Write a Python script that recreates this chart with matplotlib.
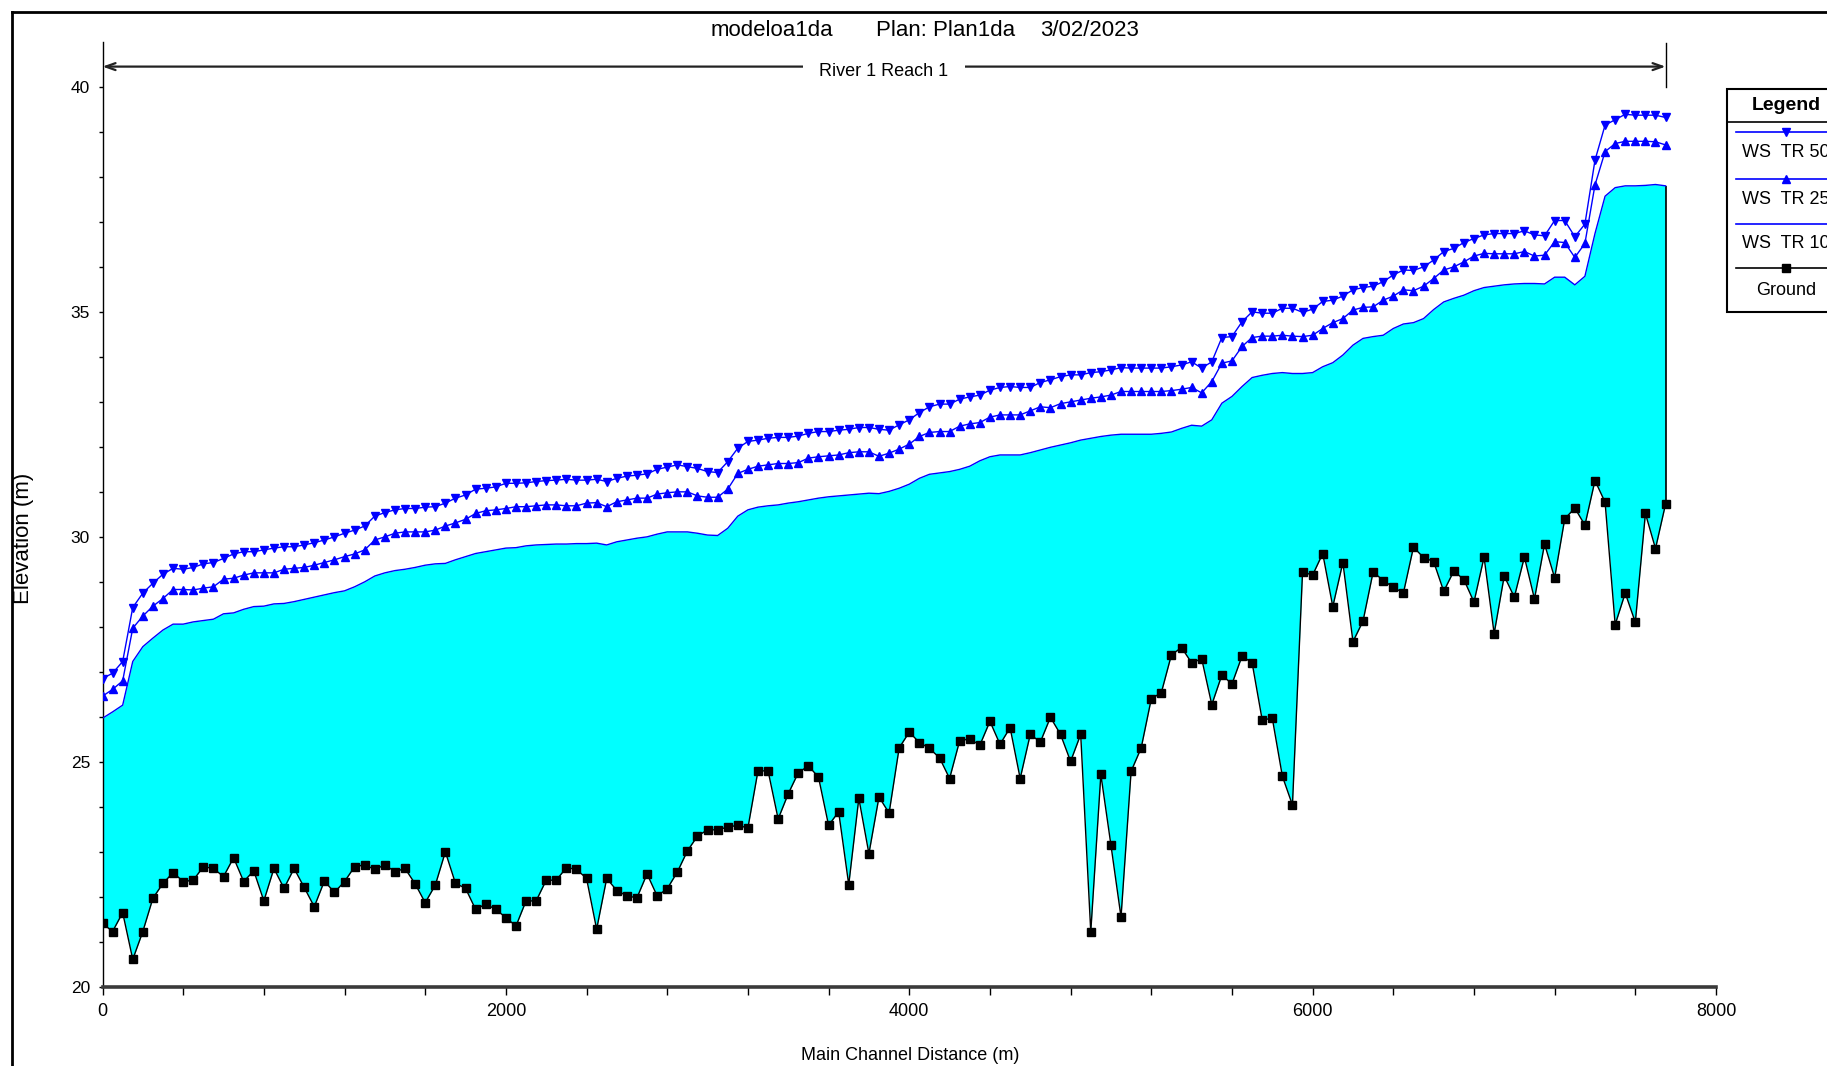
import matplotlib
matplotlib.use("Agg")
import matplotlib.pyplot as plt
from matplotlib.lines import Line2D
from matplotlib.patches import Rectangle

# figure size in pixels (saved at 100 dpi)
W, H = 1827, 1066

# main channel distance of each cross section (m)
station = [
    0, 50, 100, 150, 200, 250, 300, 350, 400, 450,
    500, 550, 600, 650, 700, 750, 800, 850, 900, 950,
    1000, 1050, 1100, 1150, 1200, 1250, 1300, 1350, 1400, 1450,
    1500, 1550, 1600, 1650, 1700, 1750, 1800, 1850, 1900, 1950,
    2000, 2050, 2100, 2150, 2200, 2250, 2300, 2350, 2400, 2450,
    2500, 2550, 2600, 2650, 2700, 2750, 2800, 2850, 2900, 2950,
    3000, 3050, 3100, 3150, 3200, 3250, 3300, 3350, 3400, 3450,
    3500, 3550, 3600, 3650, 3700, 3750, 3800, 3850, 3900, 3950,
    4000, 4050, 4100, 4150, 4200, 4250, 4300, 4350, 4400, 4450,
    4500, 4550, 4600, 4650, 4700, 4750, 4800, 4850, 4900, 4950,
    5000, 5050, 5100, 5150, 5200, 5250, 5300, 5350, 5400, 5450,
    5500, 5550, 5600, 5650, 5700, 5750, 5800, 5850, 5900, 5950,
    6000, 6050, 6100, 6150, 6200, 6250, 6300, 6350, 6400, 6450,
    6500, 6550, 6600, 6650, 6700, 6750, 6800, 6850, 6900, 6950,
    7000, 7050, 7100, 7150, 7200, 7250, 7300, 7350, 7400, 7450,
    7500, 7550, 7600, 7650, 7700, 7750,
]

# channel bed elevation (m)
ground = [
    21.42, 21.24, 21.66, 20.62, 21.24, 21.98, 22.31, 22.55, 22.35, 22.38,
    22.68, 22.64, 22.46, 22.88, 22.35, 22.59, 21.92, 22.64, 22.20, 22.64,
    22.22, 21.79, 22.36, 22.11, 22.35, 22.68, 22.72, 22.62, 22.72, 22.57,
    22.64, 22.30, 21.88, 22.27, 23.01, 22.31, 22.20, 21.73, 21.85, 21.73,
    21.55, 21.36, 21.92, 21.92, 22.38, 22.38, 22.66, 22.62, 22.42, 21.29,
    22.42, 22.15, 22.03, 21.99, 22.52, 22.03, 22.19, 22.56, 23.03, 23.36,
    23.50, 23.50, 23.56, 23.60, 23.54, 24.81, 24.81, 23.74, 24.30, 24.77,
    24.92, 24.67, 23.60, 23.90, 22.28, 24.20, 22.97, 24.23, 23.87, 25.32,
    25.67, 25.44, 25.31, 25.10, 24.64, 25.48, 25.52, 25.38, 25.91, 25.40,
    25.77, 24.64, 25.62, 25.45, 26.00, 25.62, 25.02, 25.62, 21.23, 24.73,
    23.16, 21.56, 24.80, 25.32, 26.41, 26.55, 27.39, 27.55, 27.21, 27.30,
    26.28, 26.94, 26.74, 27.36, 27.21, 25.94, 25.98, 24.69, 24.05, 29.23,
    29.16, 29.64, 28.46, 29.44, 27.68, 28.14, 29.23, 29.04, 28.89, 28.76,
    29.78, 29.55, 29.46, 28.80, 29.25, 29.06, 28.56, 29.56, 27.86, 29.14,
    28.67, 29.56, 28.63, 29.85, 29.10, 30.41, 30.65, 30.27, 31.26, 30.78,
    28.06, 28.76, 28.11, 30.53, 29.75, 30.74,
]

# water surface, 10 year return period
ws_tr10 = [
    25.98, 26.12, 26.27, 27.24, 27.57, 27.76, 27.94, 28.07, 28.07, 28.12,
    28.15, 28.18, 28.30, 28.32, 28.40, 28.46, 28.47, 28.52, 28.53, 28.57,
    28.62, 28.67, 28.72, 28.77, 28.81, 28.90, 29.01, 29.14, 29.21, 29.26,
    29.29, 29.33, 29.38, 29.41, 29.42, 29.50, 29.57, 29.64, 29.68, 29.72,
    29.76, 29.77, 29.81, 29.83, 29.84, 29.85, 29.85, 29.86, 29.86, 29.87,
    29.83, 29.90, 29.94, 29.98, 30.01, 30.07, 30.12, 30.12, 30.12, 30.09,
    30.05, 30.04, 30.20, 30.47, 30.61, 30.67, 30.70, 30.72, 30.76, 30.79,
    30.83, 30.87, 30.90, 30.92, 30.94, 30.96, 30.98, 30.97, 31.02, 31.09,
    31.18, 31.31, 31.40, 31.43, 31.46, 31.51, 31.58, 31.70, 31.79, 31.83,
    31.83, 31.83, 31.88, 31.94, 32.00, 32.05, 32.10, 32.16, 32.20, 32.24,
    32.27, 32.29, 32.29, 32.29, 32.29, 32.31, 32.34, 32.42, 32.49, 32.47,
    32.61, 32.98, 33.13, 33.35, 33.55, 33.60, 33.64, 33.66, 33.64, 33.64,
    33.66, 33.79, 33.88, 34.05, 34.27, 34.42, 34.46, 34.49, 34.64, 34.74,
    34.77, 34.86, 35.06, 35.23, 35.31, 35.38, 35.48, 35.55, 35.58, 35.61,
    35.63, 35.64, 35.64, 35.63, 35.78, 35.78, 35.61, 35.80, 36.75, 37.58,
    37.77, 37.81, 37.81, 37.82, 37.84, 37.81,
]

# water surface, 25 year return period
ws_tr25 = [
    26.47, 26.62, 26.81, 27.98, 28.25, 28.47, 28.64, 28.84, 28.84, 28.83,
    28.87, 28.90, 29.07, 29.09, 29.16, 29.21, 29.21, 29.21, 29.29, 29.31,
    29.33, 29.38, 29.44, 29.50, 29.57, 29.63, 29.72, 29.94, 30.01, 30.09,
    30.12, 30.12, 30.12, 30.16, 30.25, 30.32, 30.40, 30.53, 30.59, 30.61,
    30.64, 30.68, 30.68, 30.70, 30.72, 30.72, 30.70, 30.70, 30.76, 30.77,
    30.68, 30.79, 30.83, 30.87, 30.87, 30.96, 30.99, 31.01, 31.01, 30.92,
    30.89, 30.89, 31.07, 31.42, 31.51, 31.58, 31.61, 31.64, 31.64, 31.66,
    31.76, 31.79, 31.81, 31.83, 31.88, 31.90, 31.90, 31.80, 31.87, 31.96,
    32.07, 32.24, 32.33, 32.35, 32.35, 32.47, 32.52, 32.55, 32.67, 32.72,
    32.72, 32.72, 32.81, 32.90, 32.88, 32.97, 33.01, 33.05, 33.09, 33.12,
    33.16, 33.24, 33.24, 33.24, 33.24, 33.24, 33.26, 33.29, 33.33, 33.21,
    33.46, 33.87, 33.92, 34.24, 34.44, 34.47, 34.47, 34.49, 34.47, 34.46,
    34.49, 34.64, 34.77, 34.86, 35.05, 35.11, 35.12, 35.27, 35.36, 35.50,
    35.48, 35.58, 35.75, 35.94, 36.01, 36.12, 36.25, 36.31, 36.30, 36.30,
    36.30, 36.35, 36.25, 36.27, 36.57, 36.55, 36.22, 36.53, 37.83, 38.57,
    38.75, 38.80, 38.80, 38.80, 38.79, 38.72,
]

# water surface, 50 year return period
ws_tr50 = [
    26.86, 26.98, 27.24, 28.44, 28.76, 28.98, 29.18, 29.31, 29.29, 29.33,
    29.41, 29.44, 29.53, 29.63, 29.68, 29.68, 29.72, 29.76, 29.79, 29.79,
    29.83, 29.88, 29.94, 30.01, 30.09, 30.16, 30.25, 30.47, 30.55, 30.61,
    30.64, 30.64, 30.67, 30.68, 30.76, 30.87, 30.94, 31.07, 31.09, 31.12,
    31.20, 31.20, 31.21, 31.24, 31.26, 31.27, 31.29, 31.27, 31.27, 31.29,
    31.24, 31.31, 31.36, 31.38, 31.41, 31.51, 31.56, 31.61, 31.57, 31.53,
    31.46, 31.44, 31.68, 31.98, 32.13, 32.16, 32.20, 32.22, 32.22, 32.25,
    32.31, 32.35, 32.35, 32.38, 32.40, 32.44, 32.44, 32.40, 32.38, 32.50,
    32.61, 32.77, 32.90, 32.96, 32.96, 33.07, 33.12, 33.16, 33.27, 33.33,
    33.35, 33.33, 33.33, 33.44, 33.50, 33.57, 33.61, 33.61, 33.66, 33.68,
    33.72, 33.77, 33.76, 33.76, 33.76, 33.76, 33.79, 33.83, 33.90, 33.76,
    33.90, 34.44, 34.46, 34.79, 35.01, 34.98, 34.98, 35.09, 35.09, 35.00,
    35.07, 35.24, 35.27, 35.36, 35.50, 35.55, 35.58, 35.68, 35.83, 35.94,
    35.93, 36.01, 36.16, 36.35, 36.42, 36.55, 36.64, 36.72, 36.75, 36.75,
    36.75, 36.81, 36.72, 36.70, 37.04, 37.04, 36.68, 36.96, 38.38, 39.16,
    39.28, 39.40, 39.38, 39.38, 39.38, 39.33,
]

title_parts = ["modeloa1da", "Plan: Plan1da", "3/02/2023"]
reach_name = "River 1 Reach 1"
legend_labels = ["WS  TR 50", "WS  TR 25", "WS  TR 10", "Ground"]

plt.rcParams["font.family"] = ["Liberation Sans", "DejaVu Sans"]

BLUE = "#0000ff"
CYAN = "#00ffff"


def fx(px):
    return px / W


def fy(py):
    return 1 - py / H


fig = plt.figure(figsize=(W / 100, H / 100), dpi=100)
ax = fig.add_axes([fx(102.5), fy(987.3), (1716 - 102.5) / W, (987.3 - 42.3) / H])

# water body between bed and the 10 year surface
ax.fill_between(station, ground, ws_tr10, color=CYAN, lw=0, zorder=1)
ax.vlines(station[-1], ground[-1], ws_tr10[-1], color="black", lw=1.2, zorder=2)
ax.plot(station, ws_tr10, color=BLUE, lw=1.0, zorder=3)
ax.plot(station, ws_tr25, color=BLUE, lw=1.0, marker="^", ms=5.5, mec=BLUE, zorder=4)
ax.plot(station, ws_tr50, color=BLUE, lw=1.0, marker="v", ms=5.5, mec=BLUE, zorder=4)
ax.plot(station, ground, color="black", lw=1.0, marker="s", ms=6, zorder=5)

ax.set_xlim(0, 8000)
ax.set_ylim(20, 41)
ax.set_xticks(range(0, 8001, 2000))
ax.set_xticks(range(0, 8001, 400), minor=True)
ax.set_yticks(range(20, 41, 5))
ax.set_yticks(range(20, 41, 1), minor=True)
for s in ("top", "right"):
    ax.spines[s].set_visible(False)
ax.spines["left"].set_linewidth(1.0)
ax.spines["bottom"].set_linewidth(2.6)
ax.spines["bottom"].set_color("#3a3a3a")
ax.tick_params(axis="x", which="both", direction="out", length=6, width=1, pad=5, labelsize=13)
ax.tick_params(axis="y", which="both", direction="out", length=3, width=1, pad=6, labelsize=12.5)

# reach extent arrow above the profile
y_reach = 40.46
ax.annotate("", xy=(0, y_reach), xytext=(station[-1], y_reach),
            arrowprops=dict(arrowstyle="<->,head_length=0.7,head_width=0.25",
                            lw=1.6, color="#222222", shrinkA=0, shrinkB=0),
            annotation_clip=False)
ax.plot([station[-1], station[-1]], [40.0, 40.98], color="black", lw=1.0, clip_on=False)
ax.text(station[-1] / 2, 40.36, reach_name, ha="center", va="center", fontsize=13,
        bbox=dict(boxstyle="square,pad=0.9", fc="white", ec="none"))

# title line
for txt, left in zip(title_parts, [711, 876, 1040.5]):
    fig.text(fx(left), fy(30), txt, ha="left", va="center", fontsize=16)

fig.text(fx(910), fy(1056), "Main Channel Distance (m)", ha="center", va="center", fontsize=13)
fig.text(fx(23), fy(538), "Elevation (m)", ha="center", va="center", rotation=90, fontsize=16)

# legend panel on the right edge
lx0, lx1 = 1726.7, 1845
fig.add_artist(Rectangle((fx(lx0), fy(311.7)), fx(lx1) - fx(lx0), (311.7 - 89.3) / H,
                         transform=fig.transFigure, fc="white", ec="black", lw=1.5))
fig.add_artist(Line2D([fx(lx0), fx(lx1)], [fy(121.7), fy(121.7)], color="black", lw=1.2))
fig.text(fx(1786), fy(105), "Legend", ha="center", va="center", fontsize=14, fontweight="bold")
styles = [(BLUE, "v"), (BLUE, "^"), (BLUE, None), ("black", "s")]
line_y = [132.3, 179, 224, 268.3]
text_y = [152.7, 199.3, 243.3, 290.7]
for (col, mk), ly, ty, lab in zip(styles, line_y, text_y, legend_labels):
    fig.add_artist(Line2D([fx(1736), fx(lx1)], [fy(ly), fy(ly)], color=col, lw=1.2))
    if mk:
        fig.add_artist(Line2D([fx(1786)], [fy(ly)], color=col, marker=mk, ms=6, mec=col))
    fig.text(fx(1786), fy(ty), lab, ha="center", va="center", fontsize=13)

# window frame along the top and left edge
fig.add_artist(Line2D([fx(11.6), fx(11.6)], [0, fy(11.6)], color="black", lw=2))
fig.add_artist(Line2D([fx(11.6), 1], [fy(11.6), fy(11.6)], color="black", lw=2))

fig.savefig("out.png", dpi=100)
